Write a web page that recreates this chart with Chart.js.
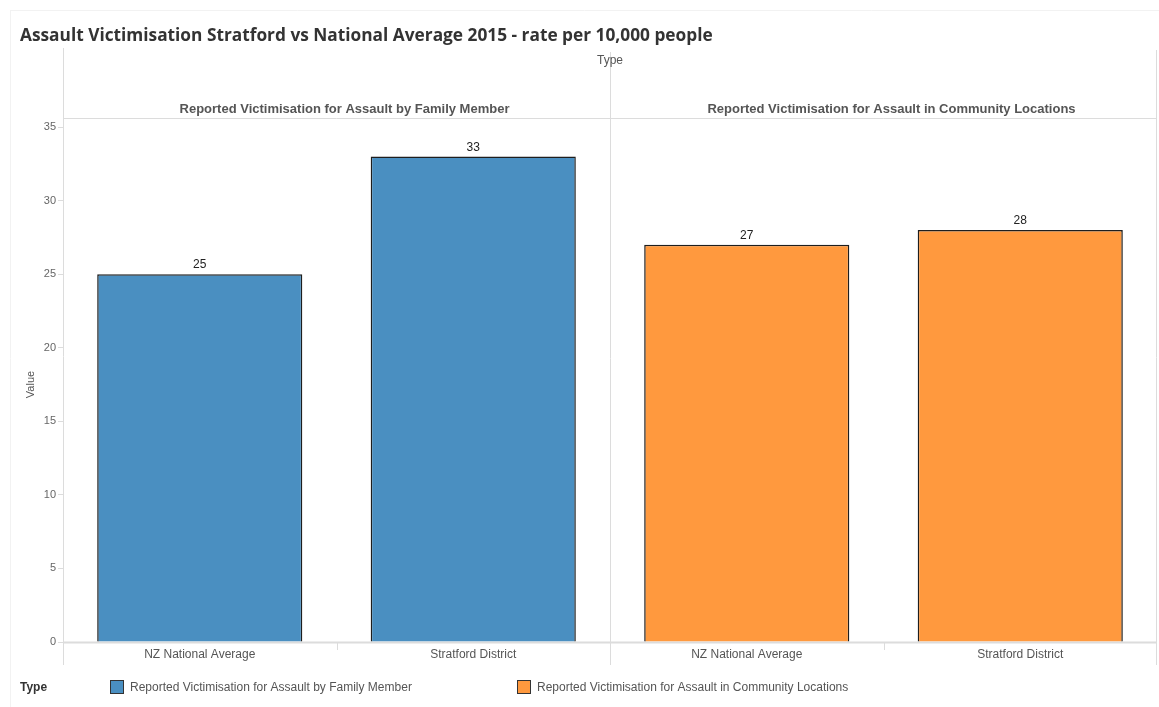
<!DOCTYPE html>
<html>
<head>
<meta charset="utf-8">
<script src="https://cdn.jsdelivr.net/npm/chart.js@4.4.1/dist/chart.umd.min.js"></script>
<style>
  html, body { margin: 0; padding: 0; background: #fff; }
  #wrap { position: relative; width: 1159px; height: 707px; }
</style>
</head>
<body>
<div id="wrap"><canvas id="myChart" width="1159" height="707"></canvas></div>
<script>
'use strict'
// data
let chartTitle = 'Assault Victimisation Stratford vs National Average 2015 - rate per 10,000 people';
let categories = ['NZ National Average', 'Stratford District'];
let panels = ['Reported Victimisation for Assault by Family Member', 'Reported Victimisation for Assault in Community Locations'];
let familyValues = [25, 33];
let communityValues = [27, 28];
let yTicks = [0, 5, 10, 15, 20, 25, 30, 35];

let blue = '#4A8FC1';
let orange = '#FF993E';
let lineGray = '#dcdcdc';
let textGray = '#555';

// one label per bar, panels side by side
let labels = [];
panels.forEach(() => categories.forEach(c => labels.push(c)));
let familyData = familyValues.concat(communityValues.map(() => null));
let communityData = familyValues.map(() => null).concat(communityValues);

function hline(ctx, x1, x2, y, color, w) {
  ctx.save();
  ctx.strokeStyle = color;
  ctx.lineWidth = w || 1;
  ctx.beginPath();
  ctx.moveTo(x1, y);
  ctx.lineTo(x2, y);
  ctx.stroke();
  ctx.restore();
}
function vline(ctx, x, y1, y2, color, w) {
  ctx.save();
  ctx.strokeStyle = color;
  ctx.lineWidth = w || 1;
  ctx.beginPath();
  ctx.moveTo(x, y1);
  ctx.lineTo(x, y2);
  ctx.stroke();
  ctx.restore();
}

let decorations = {
  id: 'decorations',
  beforeDatasetsDraw(chart) {
    let ctx = chart.ctx;
    let a = chart.chartArea;
    let x = chart.scales.x;
    let mid = Math.round((x.getPixelForValue(1) + x.getPixelForValue(2)) / 2) + 0.5;
    let left = Math.round(a.left) + 0.5;
    let right = Math.round(a.right) - 0.5;

    // outer frame
    hline(ctx, 10, 1159, 10.5, '#f2f2f2');
    vline(ctx, 10.5, 10, 707, '#f2f2f2');

    // panel frame
    vline(ctx, left, 48, 665, lineGray);
    vline(ctx, right, 50, 665, lineGray);
    vline(ctx, mid, 52, 665, lineGray);
    hline(ctx, left, right, a.top - 9 + 0.5, lineGray);
    hline(ctx, left, right, Math.round(a.bottom) + 0.5, lineGray, 2);

    // small separators inside each panel
    for (let i = 0; i < labels.length - 1; i += 2) {
      let sx = Math.round((x.getPixelForValue(i) + x.getPixelForValue(i + 1)) / 2) + 0.5;
      vline(ctx, sx, a.bottom, a.bottom + 8, lineGray);
    }
  },
  afterDraw(chart) {
    let ctx = chart.ctx;
    let a = chart.chartArea;
    let x = chart.scales.x;
    ctx.save();

    // main title, squeezed to the reference width
    let size = 18;
    ctx.font = 'bold ' + size + 'px "Open Sans"';
    while (ctx.measureText(chartTitle).width > 694 && size > 10) {
      size -= 0.1;
      ctx.font = 'bold ' + size.toFixed(1) + 'px "Open Sans"';
    }
    ctx.fillStyle = '#333';
    ctx.textAlign = 'left';
    ctx.textBaseline = 'middle';
    ctx.fillText(chartTitle, 20, 36);

    // column header
    ctx.font = '12px "Liberation Sans"';
    ctx.fillStyle = textGray;
    ctx.textAlign = 'center';
    ctx.fillText('Type', (a.left + a.right) / 2, 61);

    // panel headers sit a bit right of the panel centre in the original
    ctx.font = 'bold 13px "Liberation Sans"';
    panels.forEach((p, i) => {
      let cx = (x.getPixelForValue(i * 2) + x.getPixelForValue(i * 2 + 1)) / 2;
      ctx.fillText(p, cx + 8, 109);
    });

    // value labels
    ctx.font = '12px "Liberation Sans"';
    ctx.fillStyle = '#222';
    ctx.textBaseline = 'bottom';
    chart.data.datasets.forEach((ds, di) => {
      chart.getDatasetMeta(di).data.forEach((bar, j) => {
        if (ds.data[j] === null) return;
        ctx.fillText(String(ds.data[j]), bar.x, bar.y - 3);
      });
    });

    // legend
    ctx.textBaseline = 'middle';
    ctx.textAlign = 'left';
    ctx.font = 'bold 12px "Liberation Sans"';
    ctx.fillStyle = '#333';
    ctx.fillText('Type', 20, 688);
    let items = [[panels[0], blue, 110], [panels[1], orange, 517]];
    ctx.font = '12px "Liberation Sans"';
    items.forEach(it => {
      ctx.fillStyle = it[1];
      ctx.fillRect(it[2], 680, 14, 14);
      ctx.strokeStyle = '#333';
      ctx.lineWidth = 1;
      ctx.strokeRect(it[2] + 0.5, 680.5, 13, 13);
      ctx.fillStyle = textGray;
      ctx.fillText(it[0], it[2] + 20, 688);
    });
    ctx.restore();
  }
};

const ctx = document.getElementById('myChart');

new Chart(ctx, {
  type: 'bar',
  data: {
    labels: labels,
    datasets: [
      {
        label: panels[0],
        data: familyData,
        backgroundColor: blue,
        borderColor: '#1e1e1e',
        borderWidth: 1.5
      },
      {
        label: panels[1],
        data: communityData,
        backgroundColor: orange,
        borderColor: '#1e1e1e',
        borderWidth: 1.5
      }
    ]
  },
  options: {
    responsive: false,
    animation: false,
    layout: { padding: { left: 10, top: 127, right: 2, bottom: 0 } },
    datasets: {
      bar: { grouped: false, barPercentage: 0.75, categoryPercentage: 1 }
    },
    plugins: {
      legend: { display: false },
      tooltip: { enabled: false }
    },
    scales: {
      x: {
        grid: { display: false, drawTicks: false },
        border: { display: false },
        ticks: {
          color: textGray,
          font: { family: 'Liberation Sans', size: 12 },
          padding: 5,
          maxRotation: 0,
          autoSkip: false
        },
        afterFit(scale) { scale.height = 65; }
      },
      y: {
        min: 0,
        max: 35,
        border: { display: false },
        grid: { drawOnChartArea: false, tickLength: 5, color: lineGray },
        afterBuildTicks(scale) { scale.ticks = yTicks.map(v => ({ value: v })); },
        ticks: {
          color: '#666',
          font: { family: 'Liberation Sans', size: 11 },
          padding: 2
        },
        title: {
          display: true,
          text: 'Value',
          color: textGray,
          font: { family: 'Liberation Sans', size: 11 },
          padding: { top: 14, bottom: 0 }
        },
        afterFit(scale) { scale.width = 53; }
      }
    }
  },
  plugins: [decorations]
});
</script>
</body>
</html>
